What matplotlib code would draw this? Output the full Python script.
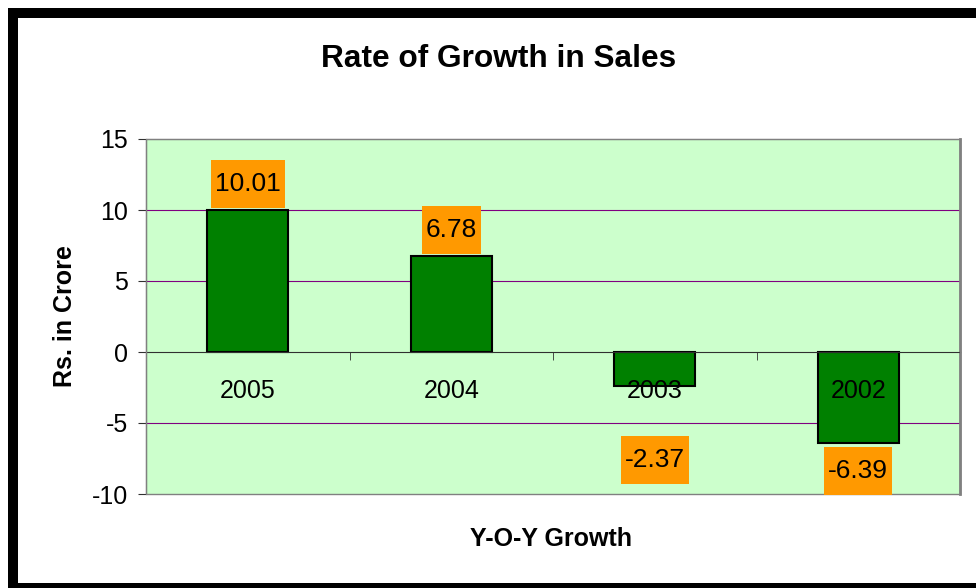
"""Rate of growth in sales, Excel-style column chart with boxed data labels."""
import matplotlib
matplotlib.use("Agg")
import matplotlib.pyplot as plt
from matplotlib.patches import Rectangle
from matplotlib.path import Path
from matplotlib.ticker import FixedLocator

YEARS = ["2005", "2004", "2003", "2002"]
GROWTH = [10.01, 6.78, -2.37, -6.39]
Y_TICKS = [-10, -5, 0, 5, 10, 15]

# where Excel dropped each label box relative to the bar end (points)
LABEL_OFFSETS = [18.4, 18.4, -53.3, -20.0]

plt.rcParams["font.family"] = ["Liberation Sans", "DejaVu Sans"]
plt.rcParams["axes.unicode_minus"] = False


def label_box(x0, y0, width, height, mutation_size):
    # tall orange box like Excel's label fill: narrow sides, deep top/bottom
    pad_x = 0.15 * mutation_size
    half_h = 0.91 * mutation_size
    middle = y0 + height / 2
    left, right = x0 - pad_x, x0 + width + pad_x
    bottom, top = middle - half_h, middle + half_h
    return Path([(left, bottom), (right, bottom), (right, top), (left, top), (left, bottom)],
                closed=True)


def main():
    fig = plt.figure(figsize=(9.76, 5.88), dpi=100, facecolor="white")
    ax = fig.add_axes([146 / 976, 94 / 588, 814 / 976, 355 / 588])
    ax.set_facecolor("#CCFFCC")

    positions = range(len(YEARS))
    for level in Y_TICKS[1:-1]:
        if level != 0:
            ax.axhline(level, color="#800080", linewidth=0.8, zorder=0.5)
    ax.bar(positions, GROWTH, width=0.4, color="#008000", edgecolor="black", linewidth=1.5, zorder=1)

    for x, value, offset in zip(positions, GROWTH, LABEL_OFFSETS):
        ax.annotate(f"{value:.2f}", (x, value), xytext=(0, offset), textcoords="offset points",
                    ha="center", va="center", fontsize=19, zorder=4,
                    bbox=dict(boxstyle=label_box, fc="#FF9900", ec="none"))

    ax.set_xlim(-0.5, len(YEARS) - 0.5)
    ax.set_ylim(Y_TICKS[0], Y_TICKS[-1])
    ax.set_yticks(Y_TICKS)
    ax.set_axisbelow(False)

    ax.set_xticks(list(positions))
    ax.set_xticklabels(YEARS)
    ax.xaxis.set_minor_locator(FixedLocator([p - 0.5 for p in range(len(YEARS) + 1)]))
    ax.tick_params(axis="x", which="major", length=0, pad=19.5, labelsize=18)
    ax.tick_params(axis="x", which="minor", length=5.8, direction="out", color="#303030")
    ax.tick_params(axis="y", length=5.8, direction="out", color="#303030", pad=7, labelsize=18)

    ax.spines["bottom"].set_position(("data", 0))
    ax.spines["bottom"].set_color("#303030")
    ax.spines["left"].set_color("#404040")
    ax.spines["top"].set_color("#808080")
    ax.spines["right"].set_color("#808080")
    ax.spines["right"].set_linewidth(2)
    ax.add_patch(Rectangle((0, 0), 1, 1, transform=ax.transAxes, fill=False,
                           edgecolor="#808080", linewidth=1, zorder=3, clip_on=False))

    ax.set_ylabel("Rs. in Crore", fontsize=18, fontweight="bold")
    ax.yaxis.set_label_coords(-0.085, 0.5)
    ax.set_xlabel("Y-O-Y Growth", fontsize=18, fontweight="bold")
    ax.xaxis.set_label_coords(0.497, -0.093)

    fig.text(498.5 / 976, 1 - 67 / 588, "Rate of Growth in Sales", ha="center", va="baseline",
             fontsize=22.8, fontweight="bold")

    # heavy black frame round the chart area
    fig.add_artist(Rectangle((13 / 976, 0), 1.5, 575.5 / 588, transform=fig.transFigure,
                             fill=False, edgecolor="black", linewidth=7.2, joinstyle="miter"))

    fig.savefig("out.png", dpi=100, facecolor="white")


if __name__ == "__main__":
    main()
